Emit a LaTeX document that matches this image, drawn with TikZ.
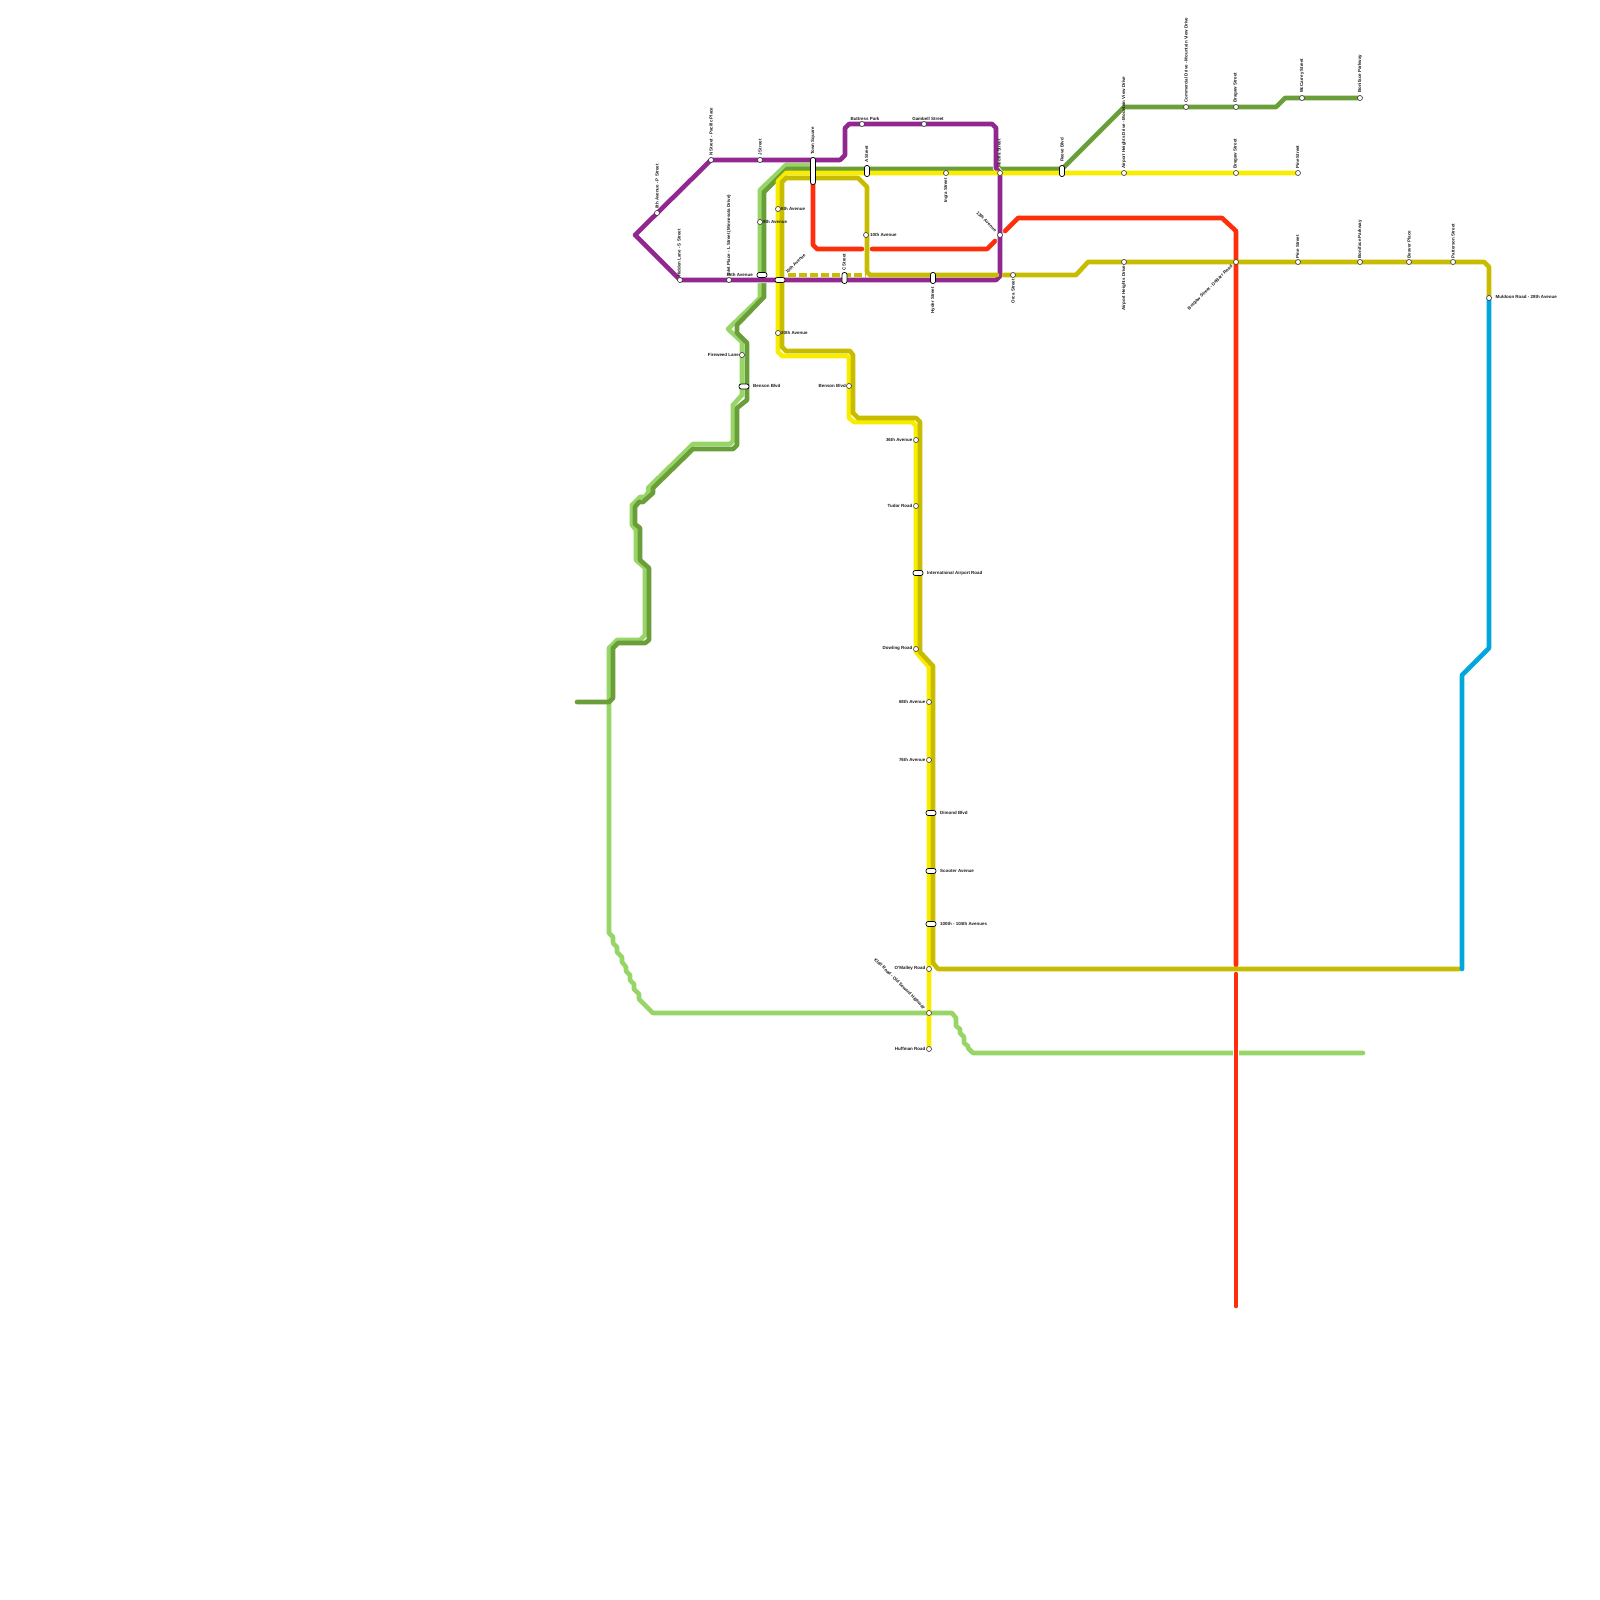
\documentclass[tikz,border=0pt]{standalone}
\usepackage{fontspec}
\setmainfont{Liberation Sans}
\begin{document}
\begin{tikzpicture}[x=1pt,y=-1pt,
  lineb/.style={line width=4.6pt,line join=round,line cap=round},
  casing/.style={line width=6.4pt,white,line join=round},
  dkgreen/.style={lineb,draw=dkgreenc},
  ltgreen/.style={lineb,draw=ltgreenc},
  purp/.style={lineb,draw=purplec},
  yel/.style={lineb,draw=yellowc},
  oliv/.style={lineb,draw=olivec},
  redl/.style={lineb,draw=redc},
  blue/.style={lineb,draw=bluec},
  stn/.style={circle,draw=black!80,fill=white,line width=0.6pt,inner sep=0pt,minimum size=5pt},
  pill/.style={rectangle,rounded corners=2.2pt,draw=black,fill=white,line width=0.7pt,inner sep=0pt},
  pillh/.style={pill,minimum width=10pt,minimum height=5pt},
  pillv/.style={pill,minimum width=5pt,minimum height=11pt},
  lab/.style={font=\bfseries\fontsize{4.45}{5}\selectfont,inner sep=0pt,text=black!90},
  labu/.style={lab,rotate=90,anchor=west},
  labd/.style={lab,rotate=90,anchor=east},
  labr/.style={lab,anchor=west},
  labl/.style={lab,anchor=east},
]
\definecolor{dkgreenc}{HTML}{6A9E38}
\definecolor{ltgreenc}{HTML}{97D566}
\definecolor{purplec}{HTML}{92278F}
\definecolor{yellowc}{HTML}{F8EC00}
\definecolor{olivec}{HTML}{C8BC00}
\definecolor{redc}{HTML}{FF2E0A}
\definecolor{bluec}{HTML}{00A6DC}
\useasboundingbox (0,0) rectangle (1600,1600);

\coordinate (sP) at (657,213);
\coordinate (sN) at (711,160);
\coordinate (sJ) at (760,160);
\coordinate (sRidge) at (680,280);
\coordinate (sInlet) at (729,280);
\coordinate (sTown) at (813,171);
\coordinate (sBig) at (1000,173);
\coordinate (s13) at (1000,235);
\coordinate (sReeve) at (1062,171);
\coordinate (sPineY) at (1298,173);
\coordinate (sBoniG) at (1360,98);
\coordinate (sMul) at (1489,298);
\coordinate (sHuff) at (929,1049);
\coordinate (sSpur) at (577,702);
\coordinate (eLt) at (1363,1053);
\coordinate (eRed) at (1236,1306);
\coordinate (eOl) at (1459,969);
\coordinate (eBl) at (1462,969);
\coordinate (sBrag) at (1236,262);

% light green
\draw[ltgreen] (813,165) -- (786,165) -- (760,190) -- (760,298) -- (728,329) -- (742,342) -- (742,395) -- (733,405) -- (733,441) -- (730,444) -- (693,444) -- (648,488) -- (649,491) -- (645,497) -- (640,497) -- (632,505) -- (632,525) -- (636,530) -- (636,560) -- (645,568) -- (645,635) -- (640,640) -- (617,640) -- (609,648) -- (609,933)
  -- (613,937) -- (613,943) -- (617,947) -- (617,952) -- (622,957) -- (622,962) -- (626,967) -- (626,971) -- (630,975) -- (630,980) -- (634,984) -- (634,989) -- (639,994) -- (639,999) -- (643,1003) -- (653,1013) -- (952,1013)
  -- (956,1018) -- (956,1026) -- (960,1029) -- (960,1033) -- (964,1037) -- (964,1043) -- (968,1046) -- (968,1048) -- (973,1053) -- (eLt);

% dark green
\draw[dkgreen] (sSpur) -- (609,702) -- (613,698) -- (613,648) -- (618,643) -- (645,643) -- (649,640) -- (649,568) -- (640,560) -- (640,528) -- (635,524) -- (635,507) -- (639,502) -- (643,502) -- (653,493) -- (653,488) -- (693,449) -- (733,449) -- (737,445) -- (737,408) -- (747,400) -- (747,343) -- (737,333) -- (737,325) -- (764,297) -- (764,192) -- (787,169) -- (sReeve |- 0,169);
\draw[dkgreen] (sReeve |- 0,169) -- (1124,107) -- (1276,107) -- (1285,98) -- (sBoniG);

% red
\draw[redl] (sTown) -- (813,245) -- (817,249) -- (862,249);
\draw[redl] (872,249) -- (987,249) -- (995,241);
\draw[redl] (1005,231) -- (1018,218) -- (1222,218) -- (1236,231) -- (1236,965);
\draw[redl] (1236,974) -- (eRed);

% white break in the light green beside the red line
\draw[white,line width=6.4pt] (1236,1048) -- (1236,1058);
\draw[redl,line cap=butt] (1236,1045) -- (1236,1061);

% purple with casing
\draw[casing] (666,266) -- (680,280) -- (996,280) -- (1000,276) -- (sBig);
\draw[casing] (996,130) -- (996,168) -- (sBig);
\draw[purp] (635,235) -- (sN) -- (840,160) -- (845,155) -- (845,128) -- (849,124) -- (992,124) -- (996,128) -- (996,168) -- (sBig) -- (1000,276) -- (996,280) -- (sRidge) -- cycle;

% yellow
\draw[yel] (sPineY) -- (786,173) -- (778,181) -- (778,352) -- (782,356) -- (847,356) -- (849,358) -- (849,418) -- (854,422) -- (912,422) -- (916,426) -- (916,652) -- (929,667) -- (sHuff);

% olive
\draw[oliv] (997,275) -- (870,275) -- (867,272) -- (867,187) -- (858,178) -- (786,178) -- (782,182) -- (782,347) -- (786,351) -- (850,351) -- (853,355) -- (853,413) -- (858,418) -- (916,418) -- (920,422) -- (920,652) -- (933,666) -- (933,963) -- (938,969) -- (eOl);
\draw[oliv] (1004,275) -- (1076,275) -- (1088,262) -- (1484,262) -- (1489,267) -- (sMul);
\draw[oliv,line cap=butt,dash pattern=on 8pt off 3pt] (788,275) -- (866,275);

% blue
\draw[blue] (sMul) -- (1489,648) -- (1462,675) -- (eBl);

% stations
\node[stn] (n1) at (sP) {};
\node[stn] (n2) at (sN) {};
\node[stn] (n3) at (sJ) {};
\node[stn] (n4) at (sRidge) {};
\node[stn] (n5) at (sInlet) {};
\node[stn] (n6) at (862,124) {};
\node[stn] (n7) at (924,124) {};
\node[stn] (n8) at (946,173) {};
\node[stn] (n9) at (sBig) {};
\node[stn] (n10) at (s13) {};
\node[stn] (n11) at (1013,275) {};
\node[stn] (n12) at (1124,173) {};
\node[stn] (n13) at (1124,262) {};
\node[stn] (n14) at (1186,107) {};
\node[stn] (n15) at (1236,107) {};
\node[stn] (n16) at (1236,173) {};
\node[stn] (n17) at (sBrag) {};
\node[stn] (n18) at (1302,98) {};
\node[stn] (n19) at (sBoniG) {};
\node[stn] (n20) at (sPineY) {};
\node[stn] (n21) at (1298,262) {};
\node[stn] (n22) at (1360,262) {};
\node[stn] (n23) at (1409,262) {};
\node[stn] (n24) at (1453,262) {};
\node[stn] (n25) at (sMul) {};
\node[stn] (n26) at (778,209) {};
\node[stn] (n27) at (760,222) {};
\node[stn] (n28) at (778,333) {};
\node[stn] (n29) at (866,235) {};
\node[stn] (n30) at (742,355) {};
\node[stn] (n31) at (849,386) {};
\node[stn] (n32) at (916,440) {};
\node[stn] (n33) at (916,506) {};
\node[stn] (n34) at (916,649) {};
\node[stn] (n35) at (929,702) {};
\node[stn] (n36) at (929,760) {};
\node[stn] (n37) at (929,969) {};
\node[stn] (n38) at (929,1013) {};
\node[stn] (n39) at (sHuff) {};
\node[pillv,minimum height=27pt] (p1) at (sTown) {};
\node[pillv] (p2) at (867,171) {};
\node[pillv] (p3) at (sReeve) {};
\node[pillv] (p4) at (844.5,278) {};
\node[pillv] (p5) at (933,278) {};
\node[pillh] (p6) at (762,275) {};
\node[pillh] (p7) at (780,280) {};
\node[pillh] (p8) at (744,386.5) {};
\node[pillh] (p9) at (918,573) {};
\node[pillh] (p10) at (931,813) {};
\node[pillh] (p11) at (931,871) {};
\node[pillh] (p12) at (931,924) {};

% labels
\node[labu] (t1) at (657,209) {8th Avenue - P Street};
\node[labu] (t2) at (711,156) {N Street - Pacific Place};
\node[labu] (t3) at (760,156) {J Street};
\node[labu] (t4) at (813,155) {Town Square};
\node[labu] (t5) at (679,277) {Hidden Lane - S Street};
\node[labu] (t6) at (729,276) {Inlet Place - L Street (Minnesota Drive)};
\node[labl] (t7) at (753,275) {15th Avenue};
\node[labr] (t8) at (781,208.5) {8th Avenue};
\node[labr] (t9) at (763,222) {9th Avenue};
\node[lab,rotate=45,anchor=west] (t10) at (786,273) {15th Avenue};
\node[labr] (t11) at (781,333) {20th Avenue};
\node[labr] (t12) at (870,235) {10th Avenue};
\node[labu] (t13) at (844,271) {C Street};
\node[labu] (t14) at (866.5,163) {A Street};
\node[lab] (t15) at (865,118.5) {Buttress Park};
\node[lab] (t16) at (928,118.5) {Gambell Street};
\node[labd] (t17) at (946,178) {Ingra Street};
\node[labd] (t18) at (933,287) {Hyder Street};
\node[labd] (t19) at (1013,279) {Orca Street};
\node[labd] (t20) at (1124,265.5) {Airport Heights Drive};
\node[labu] (t21) at (1124,169) {Airport Heights Drive - Mountain View Drive};
\node[labu] (t22) at (999,168) {Medfra Street};
\node[labu] (t23) at (1062,162) {Reeve Blvd};
\node[lab,rotate=-45,anchor=east] (t24) at (996,231) {13th Avenue};
\node[labu] (t25) at (1186,103) {Commercial Drive - Mountain View Drive};
\node[labu] (t26) at (1235.5,103) {Bragaw Street};
\node[labu] (t27) at (1302,93) {McCarrey Street};
\node[labu] (t28) at (1360,93) {Boniface Parkway};
\node[labu] (t29) at (1235.5,169) {Bragaw Street};
\node[labu] (t30) at (1297.5,169) {Pine Street};
\node[labu] (t31) at (1297.5,258.5) {Pine Street};
\node[labu] (t32) at (1360,258.5) {Boniface Parkway};
\node[labu] (t33) at (1409,258.5) {Beaver Place};
\node[labu] (t34) at (1453,258.5) {Patterson Street};
\node[lab,rotate=45,anchor=east] (t35) at (1232,266) {Bragaw Street - DeBarr Road};
\node[labr] (t36) at (1495.5,297) {Muldoon Road - 28th Avenue};
\node[labl] (t37) at (739,355) {Fireweed Lane};
\node[labr] (t38) at (753,386) {Benson Blvd};
\node[labl] (t39) at (846,386) {Benson Blvd};
\node[labl] (t40) at (912.5,439.5) {36th Avenue};
\node[labl] (t41) at (912.5,506) {Tudor Road};
\node[labr] (t42) at (927,573) {International Airport Road};
\node[labl] (t43) at (912.5,648.5) {Dowling Road};
\node[labl] (t44) at (925.5,702) {68th Avenue};
\node[labl] (t45) at (925.5,760) {76th Avenue};
\node[labr] (t46) at (940,813) {Dimond Blvd};
\node[labr] (t47) at (940,870.5) {Scooter Avenue};
\node[labr] (t48) at (940,924) {100th - 104th Avenues};
\node[labl] (t49) at (925.5,968.5) {O'Malley Road};
\node[labl] (t50) at (925.5,1048.5) {Huffman Road};
\node[lab,rotate=-45,anchor=east] (t51) at (924.5,1009) {Klatt Road - Old Seward Highway};
\end{tikzpicture}
\end{document}
